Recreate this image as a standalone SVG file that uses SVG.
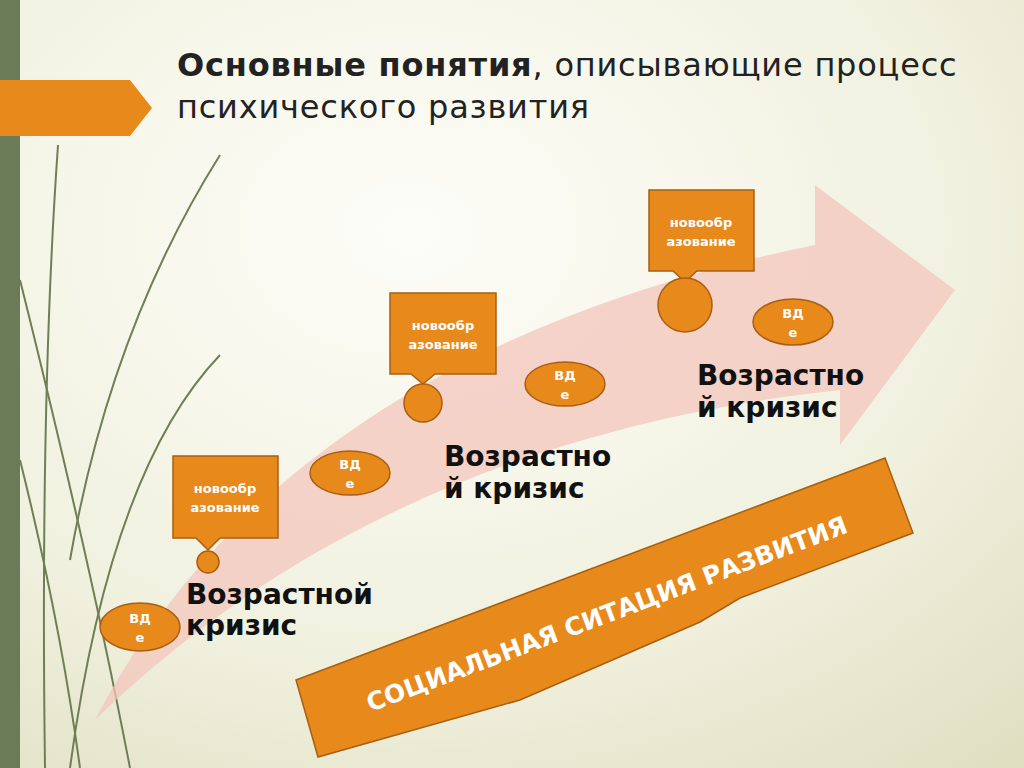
<svg xmlns="http://www.w3.org/2000/svg" width="1024" height="768" viewBox="0 0 1024 768">
<defs>
<radialGradient id="bg" cx="0.4" cy="0.3" r="0.9">
<stop offset="0" stop-color="#fdfdf8"/><stop offset="0.6" stop-color="#f1f1e0"/><stop offset="1" stop-color="#dfe0c2"/>
</radialGradient>
<style>
.o{fill:#e8891c;stroke:#a85f10;stroke-width:1.5}
.s{font-family:"DejaVu Sans",sans-serif;font-weight:bold;fill:#fff;font-size:13px;text-anchor:middle}
.k{font-family:"DejaVu Sans",sans-serif;font-weight:bold;fill:#111;font-size:28px}
.g{fill:none;stroke:#6f7f55;stroke-width:2}
</style>
</defs>
<rect width="1024" height="768" fill="url(#bg)"/>
<rect x="0" y="0" width="20" height="768" fill="#6b7a57"/>
<g id="grass">
<path class="g" d="M58 145 Q40 400 45 768"/>
<path class="g" d="M20 280 Q90 560 130 768" stroke-width="3"/>
<path class="g" d="M220 355 Q110 470 70 768" stroke-width="1.5"/>
<path class="g" d="M220 155 Q110 330 70 560" stroke="#c8c8b0" stroke-width="1"/>
<path class="g" d="M20 460 Q60 620 80 768" stroke-width="2"/>
</g>
<polygon points="0,80 130,80 152,108 130,136 0,136" fill="#e8891c"/>
<g id="title" font-family="DejaVu Sans, sans-serif" font-size="32" fill="#222" letter-spacing="0.8">
<text x="177" y="76"><tspan font-weight="bold">Основные понятия</tspan>, описывающие процесс</text>
<text x="177" y="118">психического развития</text>
</g>
<g id="arrow">
<path d="M95 720 C200 520 400 330 815 245 L815 185 L955 290 L840 445 L840 390 C560 420 300 520 95 720 Z" fill="#f3c6bc" opacity="0.75"/>
</g>
<g id="banner">
<polygon class="o" points="296,680 885,458 913,533 740,598 700,622 520,700 318,757"/>
<text transform="translate(610,622) rotate(-20.6)" font-family="DejaVu Sans, sans-serif" font-weight="bold" font-size="25" fill="#fff" text-anchor="middle">СОЦИАЛЬНАЯ СИТАЦИЯ РАЗВИТИЯ</text>
</g>
<g id="callout1">
<path class="o" d="M173 456 H278 V538 H220 L208 550 L196 538 H173 Z"/>
<text class="s" x="225" y="493">новообр</text><text class="s" x="225" y="512">азование</text>
<circle class="o" cx="208" cy="562" r="11"/>
</g>
<g id="callout2">
<path class="o" d="M390 293 H496 V374 H435 L423 384 L411 374 H390 Z"/>
<text class="s" x="443" y="330">новообр</text><text class="s" x="443" y="349">азование</text>
<circle class="o" cx="423" cy="403" r="19"/>
</g>
<g id="callout3">
<path class="o" d="M649 190 H754 V271 H697 L685 282 L673 271 H649 Z"/>
<text class="s" x="701" y="227">новообр</text><text class="s" x="701" y="246">азование</text>
<circle class="o" cx="685" cy="305" r="27"/>
</g>
<g id="ovals">
<ellipse class="o" cx="140" cy="627" rx="40" ry="24"/><text class="s" x="140" y="623">ВД</text><text class="s" x="140" y="642">е</text>
<ellipse class="o" cx="350" cy="473" rx="40" ry="22"/><text class="s" x="350" y="469">ВД</text><text class="s" x="350" y="488">е</text>
<ellipse class="o" cx="565" cy="384" rx="40" ry="22"/><text class="s" x="565" y="380">ВД</text><text class="s" x="565" y="399">е</text>
<ellipse class="o" cx="793" cy="322" rx="40" ry="23"/><text class="s" x="793" y="318">ВД</text><text class="s" x="793" y="337">е</text>
</g>
<g id="labels">
<text class="k" x="186" y="604">Возрастной</text><text class="k" x="186" y="635">кризис</text>
<text class="k" x="444" y="466">Возрастно</text><text class="k" x="444" y="498">й кризис</text>
<text class="k" x="697" y="385">Возрастно</text><text class="k" x="697" y="417">й кризис</text>
</g>
</svg>
